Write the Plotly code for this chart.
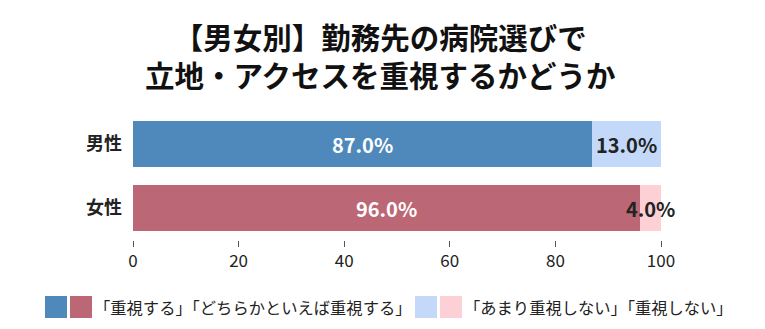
import plotly.graph_objects as go

categories = ["男性", "女性"]
important = [87.0, 96.0]
not_important = [13.0, 4.0]
dark_colors = ["#4f89bc", "#bc6776"]
light_colors = ["#c4d9fa", "#fdd0d5"]
tick_vals = [0, 20, 40, 60, 80, 100]
title_lines = ["【男女別】勤務先の病院選びで", "立地・アクセスを重視するかどうか"]
legend_texts = ["「重視する」「どちらかといえば重視する」", "「あまり重視しない」「重視しない」"]

FONT = "Noto Sans CJK JP"
W, H = 765, 329
ML, MR, MT, MB = 133, 104, 112, 89

fig = go.Figure()
fig.add_trace(go.Bar(y=categories, x=important, orientation="h",
                     marker=dict(color=dark_colors, line=dict(width=0)),
                     hoverinfo="x+y", showlegend=False))
fig.add_trace(go.Bar(y=categories, x=not_important, orientation="h",
                     marker=dict(color=light_colors, line=dict(width=0)),
                     hoverinfo="x+y", showlegend=False))

# value labels centred in each segment
for cat, a, b in zip(categories, important, not_important):
    fig.add_annotation(x=a / 2, y=cat, text=f"{a:.1f}%", showarrow=False,
                       font=dict(family=FONT, size=20, color="white", weight="bold"))
    fig.add_annotation(x=a + b / 2, y=cat, text=f"{b:.1f}%", showarrow=False,
                       font=dict(family=FONT, size=20, color="#222222", weight="bold"))

pw, ph = W - ML - MR, H - MT - MB
def px(x):
    return (x - ML) / pw
def py(y):
    return (H - MB - y) / ph

# title (two lines in one text)
fig.add_annotation(xref="paper", yref="paper", x=px(380), y=py(54.5),
                   xanchor="center", yanchor="middle", text="<br>".join(title_lines),
                   showarrow=False, borderpad=0,
                   font=dict(family=FONT, size=29.5, color="#111111", weight="bold"))

# custom legend
legend_items = [
    (45, [dark_colors[0], dark_colors[1]], legend_texts[0]),
    (415, [light_colors[0], light_colors[1]], legend_texts[1]),
]
for x0, cols, txt in legend_items:
    for i, c in enumerate(cols):
        xs = x0 + i * 25
        fig.add_shape(type="rect", xref="paper", yref="paper",
                      x0=px(xs), x1=px(xs + 22), y0=py(318), y1=py(296),
                      fillcolor=c, line=dict(width=0))
    fig.add_annotation(xref="paper", yref="paper", x=px(x0 + 48), y=py(307),
                       xanchor="left", yanchor="middle", text=txt, showarrow=False,
                       borderpad=0,
                       font=dict(family=FONT, size=16.3, color="#222222"))

fig.update_layout(
    barmode="stack", bargap=0.28,
    width=W, height=H, margin=dict(l=ML, r=MR, t=MT, b=MB),
    paper_bgcolor="white", plot_bgcolor="white",
    xaxis=dict(range=[0, 100], tickvals=tick_vals, showgrid=False, zeroline=False,
               ticks="outside", ticklen=6, tickcolor="#555555", showline=False,
               tickfont=dict(family=FONT, size=17, color="#222222")),
    yaxis=dict(categoryorder="array", categoryarray=categories, autorange="reversed",
               showgrid=False, zeroline=False, ticks="", ticklabelstandoff=10,
               tickfont=dict(family=FONT, size=18, color="#222222", weight="bold")),
    font=dict(family=FONT),
)

fig.write_html("out.html")
